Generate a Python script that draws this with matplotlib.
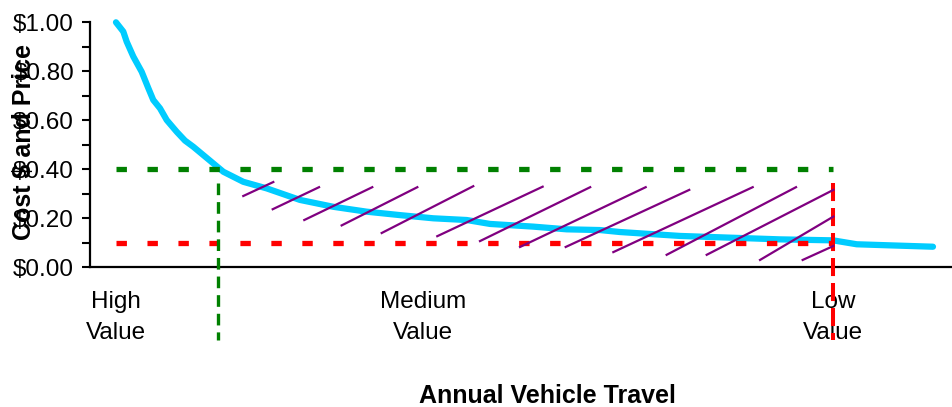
import matplotlib
matplotlib.use("Agg")
import matplotlib.pyplot as plt
from matplotlib.ticker import MultipleLocator, FuncFormatter

plt.rcParams['font.family'] = ['Liberation Sans', 'DejaVu Sans']
plt.rcParams['lines.scale_dashes'] = False

# Cost per unit of travel, ranked from highest-value to lowest-value trips
travel = [3.01, 3.86, 4.25, 5.02, 5.99, 6.76, 7.33, 8.11, 8.89, 10.05, 11.01,
          11.97, 13.13, 14.29, 15.45, 17.76, 20.48, 24.33, 28.19, 32.06, 35.92,
          39.78, 43.65, 46.35, 51.37, 55.24, 59.10, 61.41, 68.37, 79.95, 86.10,
          88.84, 92.32, 97.68]
value = [1.00, 0.962, 0.921, 0.860, 0.798, 0.731, 0.683, 0.649, 0.601, 0.553,
         0.517, 0.492, 0.458, 0.424, 0.390, 0.349, 0.322, 0.275, 0.247, 0.227,
         0.213, 0.200, 0.193, 0.177, 0.166, 0.155, 0.152, 0.144, 0.128, 0.114,
         0.110, 0.094, 0.090, 0.084]

# Price levels and the travel amounts they produce
price_high = 0.40
price_low = 0.10
travel_high_price = 14.85
travel_low_price = 86.10

# Hatched area (consumer surplus lost) as line segments
hatch_x0 = [17.76, 21.17, 24.83, 29.16, 33.80, 40.24, 45.19, 49.83, 55.12,
            60.64, 66.82, 71.46, 77.64, 82.58]
hatch_y0 = [0.291, 0.237, 0.193, 0.171, 0.140, 0.127, 0.107, 0.083, 0.083,
            0.062, 0.051, 0.051, 0.030, 0.030]
hatch_x1 = [21.24, 26.54, 32.71, 37.93, 44.41, 52.45, 57.96, 64.39, 69.44,
            76.79, 81.81, 86.14, 86.14, 86.14]
hatch_y1 = [0.348, 0.327, 0.327, 0.327, 0.331, 0.329, 0.327, 0.327, 0.316,
            0.327, 0.327, 0.316, 0.207, 0.087]

# Category labels along the travel axis
zone_pos = [3.0, 38.55, 86.1]
zone_labels = ["High\nValue", "Medium\nValue", "Low\nValue"]

fig = plt.figure(figsize=(9.53, 4.07), dpi=100)
ax = fig.add_axes([90 / 953, 1 - 267.3 / 407, 863 / 953, 245 / 407])

# Demand curve
ax.plot(travel, value, color="#00CCFF", lw=4.5, solid_capstyle="round",
        solid_joinstyle="round", clip_on=False, zorder=3)

# Horizontal price lines
ax.plot([travel[0], travel_low_price], [price_high, price_high], color="#008000",
        lw=3.8, dashes=(7.5, 14.8), zorder=4)
ax.plot([travel[0], travel_low_price], [price_low, price_low], color="#FF0000",
        lw=3.8, dashes=(7.5, 14.8), zorder=4)

# Vertical travel markers, extending below the axis
y_bottom = -0.297
ax.plot([travel_high_price, travel_high_price], [0.344, y_bottom], color="#008000",
        lw=2.4, dashes=(8.4, 5.0), clip_on=False, zorder=4)
ax.plot([travel_low_price, travel_low_price], [0.344, y_bottom], color="#FF0000",
        lw=2.9, dashes=(13.0, 5.0), clip_on=False, zorder=4)

# Hatching
for xa, ya, xb, yb in zip(hatch_x0, hatch_y0, hatch_x1, hatch_y1):
    ax.plot([xa, xb], [ya, yb], color="#800080", lw=1.6, zorder=5)

ax.set_xlim(0, 100)
ax.set_ylim(0, 1.0)

for s in ("top", "right"):
    ax.spines[s].set_visible(False)
for s in ("left", "bottom"):
    ax.spines[s].set_linewidth(1.6)
    ax.spines[s].set_color("black")

ax.yaxis.set_major_locator(MultipleLocator(0.2))
ax.yaxis.set_minor_locator(MultipleLocator(0.1))
ax.yaxis.set_major_formatter(FuncFormatter(lambda v, p: f"${v:.2f}"))
ax.tick_params(axis="y", which="both", length=5.5, width=1.5, direction="out",
               color="black")
ax.tick_params(axis="y", which="major", labelsize=17.5, pad=6)

ax.set_xticks(zone_pos)
ax.set_xticklabels(zone_labels, fontsize=17.5, linespacing=1.55)
ax.tick_params(axis="x", length=0, pad=17)

ax.set_xlabel("Annual Vehicle Travel", fontsize=18, fontweight="bold", va="center")
ax.xaxis.set_label_coords((547 - 90) / 863, -(396 - 267.3) / 245)
ax.set_ylabel("Cost $ and Price", fontsize=18, fontweight="bold", va="center")
ax.yaxis.set_label_coords((24 - 90) / 863, (267.3 - 142) / 245)

fig.savefig("out.png", dpi=100)
